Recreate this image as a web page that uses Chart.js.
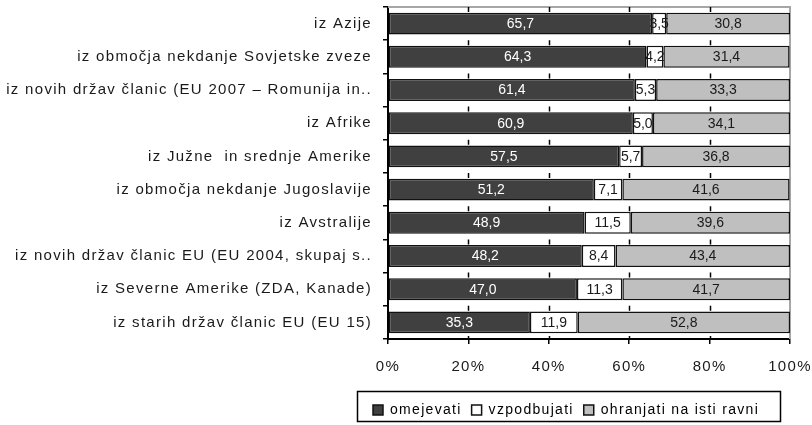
<!DOCTYPE html>
<html><head><meta charset="utf-8">
<script src="https://cdn.jsdelivr.net/npm/chart.js@4.4.0/dist/chart.umd.min.js"></script>
<style>html,body{margin:0;padding:0;background:#fff;}#wrap{width:812px;height:425px;}</style>
</head><body><div id="wrap"><canvas id="c" width="812" height="425"></canvas></div>
<script>
const categories = [
  'iz Azije',
  'iz območja nekdanje Sovjetske zveze',
  'iz novih držav članic (EU 2007 – Romunija in..',
  'iz Afrike',
  'iz Južne  in srednje Amerike',
  'iz območja nekdanje Jugoslavije',
  'iz Avstralije',
  'iz novih držav članic EU (EU 2004, skupaj s..',
  'iz Severne Amerike (ZDA, Kanade)',
  'iz starih držav članic EU (EU 15)'
];
const omejevati   = [65.7, 64.3, 61.4, 60.9, 57.5, 51.2, 48.9, 48.2, 47.0, 35.3];
const vzpodbujati = [3.5, 4.2, 5.3, 5.0, 5.7, 7.1, 11.5, 8.4, 11.3, 11.9];
const ohranjati   = [30.8, 31.4, 33.3, 34.1, 36.8, 41.6, 39.6, 43.4, 41.7, 52.8];
const seriesNames = ['omejevati', 'vzpodbujati', 'ohranjati na isti ravni'];
const xTickValues = [0, 20, 40, 60, 80, 100];

const FONT = "'Liberation Sans', Arial, sans-serif";
const CHART_H = 425, PLOT_BOTTOM = 339, PLOT_LEFT = 388;
const SPACING = '1.3px';
const LEGEND_FRAME = { left: 357, right: 781, top: 391, bottom: 422 };
const LEGEND_PAD = 10;

function setSpacing(chart, v) { try { chart.ctx.letterSpacing = v; } catch (e) {} }

const decor = {
  id: 'decor',
  beforeUpdate(chart) { setSpacing(chart, SPACING); },
  beforeLayout(chart) { setSpacing(chart, SPACING); },
  afterLayout(chart) {
    const lg = chart.legend;
    if (!lg) return;
    lg.left = LEGEND_FRAME.left + 16 - LEGEND_PAD; lg.right = 812; lg.width = lg.right - lg.left;
    lg.top = LEGEND_FRAME.top + 2; lg.bottom = LEGEND_FRAME.bottom; lg.height = lg.bottom - lg.top;
  },
  beforeDraw(chart) { setSpacing(chart, SPACING); },
  beforeDatasetsDraw(chart) {
    const ctx = chart.ctx, a = chart.chartArea;
    const xs = chart.scales.x, ys = chart.scales.y;
    ctx.save();
    ctx.strokeStyle = '#a6a6a6'; ctx.lineWidth = 2;
    ctx.beginPath();
    ctx.moveTo(a.left, a.top); ctx.lineTo(a.right, a.top); ctx.lineTo(a.right, a.bottom);
    ctx.stroke();
    const spacing = ys.getPixelForValue(1) - ys.getPixelForValue(0);
    ctx.strokeStyle = '#000'; ctx.lineWidth = 1.5;
    ctx.beginPath();
    for (let i = 0; i < categories.length; i++) {
      const b = ys.getPixelForValue(i) - spacing / 2;
      xs.ticks.forEach(t => {
        if (t.value <= 0 || t.value >= 100) return;
        const x = Math.round(xs.getPixelForValue(t.value)) + 0.5;
        ctx.moveTo(x, b); ctx.lineTo(x, b + 5);
      });
    }
    xs.ticks.forEach(t => {
      if (t.value <= 0 || t.value >= 100) return;
      const x = Math.round(xs.getPixelForValue(t.value)) + 0.5;
      ctx.moveTo(x, a.bottom - 3); ctx.lineTo(x, a.bottom);
    });
    ctx.stroke();
    ctx.restore();
  },
  afterDatasetsDraw(chart) {
    const ctx = chart.ctx;
    ctx.save();
    setSpacing(chart, '0px');
    ctx.font = '14px ' + FONT;
    ctx.textAlign = 'center'; ctx.textBaseline = 'middle';
    chart.data.datasets.forEach((ds, di) => {
      const meta = chart.getDatasetMeta(di);
      ctx.fillStyle = di === 0 ? '#ffffff' : '#1a1a1a';
      meta.data.forEach((bar, i) => {
        const v = ds.data[i];
        const txt = v.toFixed(1).replace('.', ',');
        ctx.fillText(txt, (bar.x + bar.base) / 2, bar.y + 0.5);
      });
    });
    ctx.restore();
    setSpacing(chart, SPACING);
  },
  afterDraw(chart) {
    const ctx = chart.ctx, f = LEGEND_FRAME;
    ctx.save();
    ctx.strokeStyle = '#000'; ctx.lineWidth = 1.5;
    ctx.strokeRect(f.left + 0.5, f.top + 0.5, f.right - f.left - 1, f.bottom - f.top - 1);
    ctx.restore();
  }
};

const colors = ['#404040', '#ffffff', '#bfbfbf'];
const seriesData = [omejevati, vzpodbujati, ohranjati];

new Chart(document.getElementById('c'), {
  type: 'bar',
  data: {
    labels: categories,
    datasets: seriesNames.map((n, i) => ({
      label: n,
      data: seriesData[i],
      backgroundColor: colors[i],
      borderColor: '#111',
      borderWidth: 1.5,
      borderSkipped: false,
      barPercentage: 0.66,
      categoryPercentage: 1.0
    }))
  },
  options: {
    indexAxis: 'y',
    responsive: false,
    animation: false,
    devicePixelRatio: 1,
    layout: { padding: { top: 7, right: 22, left: 0, bottom: 0 } },
    plugins: {
      tooltip: { enabled: false },
      legend: {
        position: 'bottom',
        align: 'start',
        labels: {
          font: { family: FONT, size: 14 },
          color: '#000',
          boxWidth: 10, boxHeight: 10,
          padding: LEGEND_PAD
        }
      }
    },
    scales: {
      x: {
        stacked: true, min: 0, max: 100,
        afterBuildTicks(scale) { scale.ticks = xTickValues.map(v => ({ value: v })); },
        afterFit(scale) {
          const lg = scale.chart.legend;
          scale.height = CHART_H - PLOT_BOTTOM - (lg ? lg.height : 0);
          scale.paddingLeft = 0; scale.paddingRight = 0;
        },
        ticks: {
          font: { family: FONT, size: 15 }, color: '#1a1a1a', padding: 14,
          maxRotation: 0, callback: v => v + '%'
        },
        grid: { drawOnChartArea: false, tickLength: 5, color: '#000', lineWidth: 1.5 },
        border: { color: '#000', width: 2 }
      },
      y: {
        stacked: true,
        afterFit(scale) { scale.width = PLOT_LEFT; scale.paddingTop = 0; scale.paddingBottom = 0; },
        ticks: { font: { family: FONT, size: 15 }, color: '#1a1a1a', padding: 11 },
        grid: { drawOnChartArea: false, tickLength: 5, color: '#000', lineWidth: 1.5, offset: true },
        border: { color: '#000', width: 2 }
      }
    }
  },
  plugins: [decor]
});
</script></body></html>
